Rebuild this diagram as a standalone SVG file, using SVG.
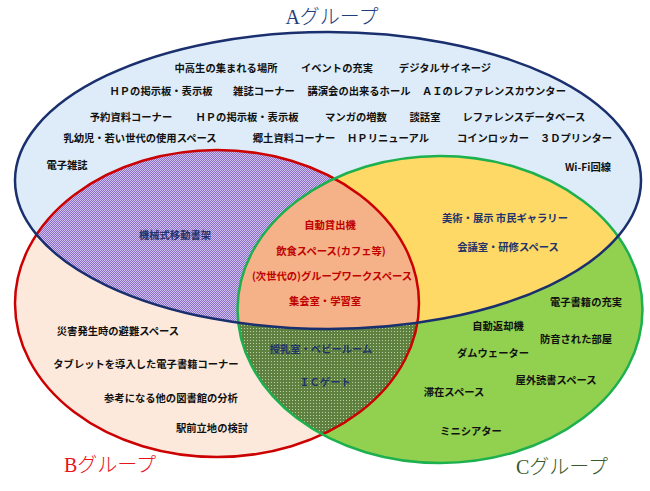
<svg xmlns="http://www.w3.org/2000/svg" width="650" height="491" viewBox="0 0 650 491">
<style>
.t{font-family:"Noto Sans CJK JP","Noto Sans",sans-serif;font-size:10.3px;font-weight:bold;text-anchor:middle;dominant-baseline:central}
.k{fill:#111}
.n{fill:#1f3469}
.r{fill:#c00000}
.ttl{font-family:"Liberation Serif","Noto Sans CJK JP",serif;font-size:20px;font-weight:300;text-anchor:middle;dominant-baseline:central}
</style>
<defs>
<ellipse id="eA" cx="328" cy="180.5" rx="313" ry="148.5"/>
<ellipse id="eB" cx="217" cy="303.5" rx="202" ry="153.5"/>
<ellipse id="eC" cx="440" cy="309.5" rx="202.5" ry="153.5"/>
<clipPath id="cA"><use href="#eA"/></clipPath>
<clipPath id="cB"><use href="#eB"/></clipPath>
<clipPath id="cC"><use href="#eC"/></clipPath>
<pattern id="pPurple" width="2" height="2" patternUnits="userSpaceOnUse">
<rect width="2" height="2" fill="#8d6fc8"/>
<rect width="1" height="1" fill="#cdbfee"/>
<rect x="1" y="1" width="1" height="1" fill="#cdbfee"/>
</pattern>
<pattern id="pGreen" width="3" height="3" patternUnits="userSpaceOnUse">
<rect width="3" height="3" fill="#5e8140"/>
<rect x="1" y="1" width="1" height="1" fill="#bccfa8"/>
</pattern>
</defs>

<g id="fills">
<use href="#eA" fill="#deecf9"/>
<use href="#eB" fill="#fde9dc"/>
<use href="#eC" fill="#92d050"/>
<g clip-path="url(#cA)"><use href="#eB" fill="url(#pPurple)"/></g>
<g clip-path="url(#cA)"><use href="#eC" fill="#ffd966"/></g>
<g clip-path="url(#cB)"><use href="#eC" fill="url(#pGreen)"/></g>
<g clip-path="url(#cA)"><g clip-path="url(#cB)"><use href="#eC" fill="#f5b187"/></g></g>
</g>

<g id="outlines" fill="none" stroke-width="2.5">
<use href="#eB" stroke="#cc0000"/>
<use href="#eC" stroke="#1db04f"/>
<use href="#eA" stroke="#1a2f6e"/>
</g>

<g id="groupA">
<text class="ttl" x="332" y="17" fill="#1f3d7a">Aグループ</text>
<text class="t k" x="226" y="67">中高生の集まれる場所</text>
<text class="t k" x="337" y="67">イベントの充実</text>
<text class="t k" x="445" y="67">デジタルサイネージ</text>
<text class="t k" x="161" y="90">ＨＰの掲示板・表示板</text>
<text class="t k" x="264" y="90">雑誌コーナー</text>
<text class="t k" x="359" y="90">講演会の出来るホール</text>
<text class="t k" x="494" y="90">ＡＩのレファレンスカウンター</text>
<text class="t k" x="131" y="116">予約資料コーナー</text>
<text class="t k" x="247" y="116">ＨＰの掲示板・表示板</text>
<text class="t k" x="356" y="116">マンガの増数</text>
<text class="t k" x="425" y="116">談話室</text>
<text class="t k" x="524" y="116">レファレンスデータベース</text>
<text class="t k" x="140" y="137">乳幼児・若い世代の使用スペース</text>
<text class="t k" x="294" y="137">郷土資料コーナー</text>
<text class="t k" x="388" y="137">ＨＰリニューアル</text>
<text class="t k" x="493" y="137">コインロッカー</text>
<text class="t k" x="576" y="137">３Ｄプリンター</text>
<text class="t k" x="67" y="164">電子雑誌</text>
<text class="t k" x="588" y="166">Wi-Fi回線</text>
</g>

<g id="groupAB">
<text class="t n" x="175" y="234">機械式移動書架</text>
</g>

<g id="groupABC">
<text class="t r" x="330" y="224">自動貸出機</text>
<text class="t r" x="331" y="250">飲食スペース(カフェ等)</text>
<text class="t r" x="332" y="275">(次世代の)グループワークスペース</text>
<text class="t r" x="325" y="300">集会室・学習室</text>
</g>

<g id="groupAC">
<text class="t n" x="505" y="217">美術・展示 市民ギャラリー</text>
<text class="t n" x="508" y="246">会議室・研修スペース</text>
</g>

<g id="groupB">
<text class="ttl" x="110" y="465" fill="#e8141b">Bグループ</text>
<text class="t k" x="118" y="330">災害発生時の避難スペース</text>
<text class="t k" x="146" y="363">タブレットを導入した電子書籍コーナー</text>
<text class="t k" x="171" y="397">参考になる他の図書館の分析</text>
<text class="t k" x="212" y="427">駅前立地の検討</text>
</g>

<g id="groupBC">
<text class="t n" x="321" y="348">授乳室・ベビールーム</text>
<text class="t n" x="325" y="381">ＩＣゲート</text>
</g>

<g id="groupC">
<text class="ttl" x="562" y="467" fill="#3a5a2a">Cグループ</text>
<text class="t k" x="586" y="301">電子書籍の充実</text>
<text class="t k" x="498" y="325">自動返却機</text>
<text class="t k" x="576" y="338">防音された部屋</text>
<text class="t k" x="493" y="352">ダムウェーター</text>
<text class="t k" x="556" y="379">屋外読書スペース</text>
<text class="t k" x="454" y="391">滞在スペース</text>
<text class="t k" x="471" y="430">ミニシアター</text>
</g>
</svg>
